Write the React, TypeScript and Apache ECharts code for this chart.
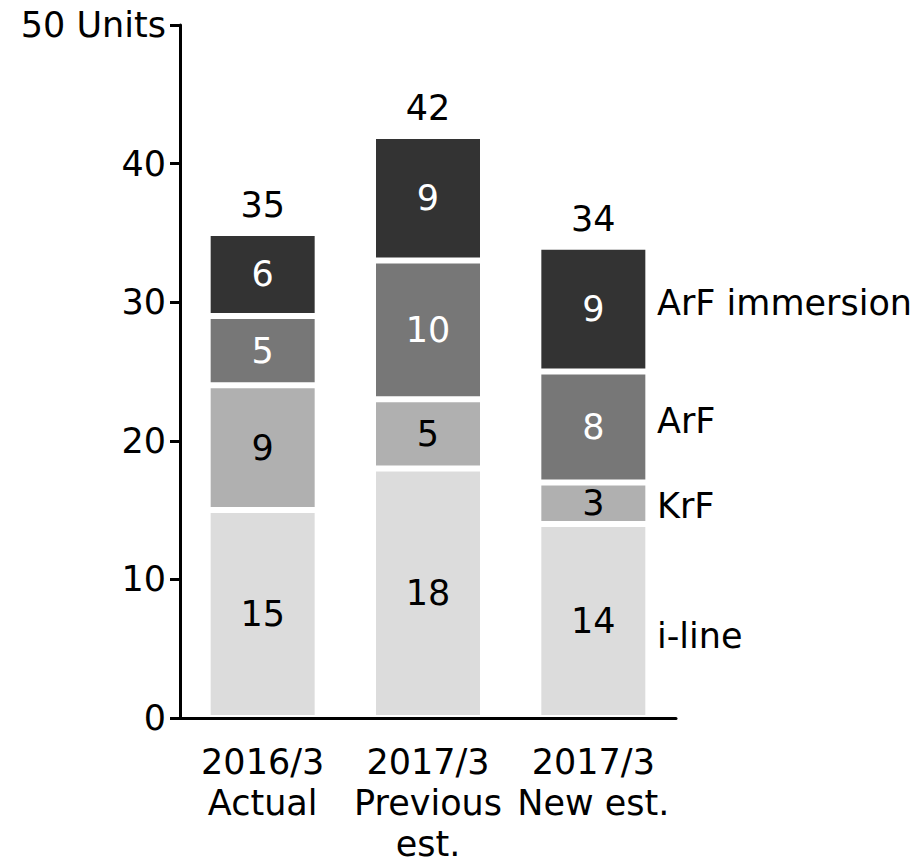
import React, { useEffect, useRef } from "react";
import * as echarts from "echarts";

const categories = ["2016/3\nActual", "2017/3\nPrevious\nest.", "2017/3\nNew est."];
const iLine = [15, 18, 14];
const krf = [9, 5, 3];
const arf = [5, 10, 8];
const arfImmersion = [6, 9, 9];
const totals = [35, 42, 34];
const seriesNames = ["i-line", "KrF", "ArF", "ArF immersion"];
const colors = ["#dcdcdc", "#b0b0b0", "#777777", "#333333"];
const labelColors = ["#000000", "#000000", "#ffffff", "#ffffff"];

const FONT = "DejaVu Sans";
const FS = 35;

export default function App() {
  const ref = useRef<HTMLDivElement>(null);
  useEffect(() => {
    if (!ref.current) return;
    document.body.style.margin = "0";
    const chart = echarts.init(ref.current, null, { renderer: "svg" });
    const values = [iLine, krf, arf, arfImmersion];
    const bars = values.map((d, i) => ({
      name: seriesNames[i],
      type: "bar",
      stack: "total",
      data: d,
      barWidth: 110,
      itemStyle: { color: colors[i], borderColor: "#ffffff", borderWidth: 3 },
      label: {
        show: true,
        position: "inside",
        color: labelColors[i],
        fontFamily: FONT,
        fontSize: FS,
      },
    }));
    chart.setOption({
      animation: false,
      grid: { left: 180, right: 248, top: 25, bottom: 146, containLabel: false },
      xAxis: {
        type: "category",
        data: categories,
        z: 5,
        axisLine: { lineStyle: { color: "#000", width: 3 } },
        axisTick: { show: false },
        axisLabel: {
          color: "#000",
          fontFamily: FONT,
          fontSize: FS,
          lineHeight: 41,
          margin: 23,
          interval: 0,
        },
      },
      yAxis: {
        type: "value",
        min: 0,
        max: 50,
        interval: 10,
        z: 5,
        splitLine: { show: false },
        axisLine: { show: true, lineStyle: { color: "#000", width: 3 } },
        axisTick: { show: true, length: 10, lineStyle: { color: "#000", width: 3 } },
        axisLabel: {
          color: "#000",
          fontFamily: FONT,
          fontSize: FS,
          margin: 14,
          formatter: (v: number) => (v === 50 ? "50 Units" : String(v)),
        },
      },
      series: [
        ...bars,
        {
          name: "total",
          type: "line",
          data: totals,
          symbol: "circle",
          symbolSize: 1,
          itemStyle: { color: "rgba(0,0,0,0)" },
          lineStyle: { opacity: 0 },
          label: {
            show: true,
            position: "top",
            distance: 10,
            color: "#000",
            fontFamily: FONT,
            fontSize: FS,
          },
        },
      ],
      graphic: [
        { type: "text", left: 657, top: 302 - 17, style: { text: "ArF immersion", fill: "#000", font: `${FS}px "${FONT}"` } },
        { type: "text", left: 657, top: 420 - 17, style: { text: "ArF", fill: "#000", font: `${FS}px "${FONT}"` } },
        { type: "text", left: 657, top: 505 - 17, style: { text: "KrF", fill: "#000", font: `${FS}px "${FONT}"` } },
        { type: "text", left: 657, top: 635 - 17, style: { text: "i-line", fill: "#000", font: `${FS}px "${FONT}"` } },
      ],
    });
    return () => chart.dispose();
  }, []);
  return <div ref={ref} style={{ width: 924, height: 864 }} />;
}
